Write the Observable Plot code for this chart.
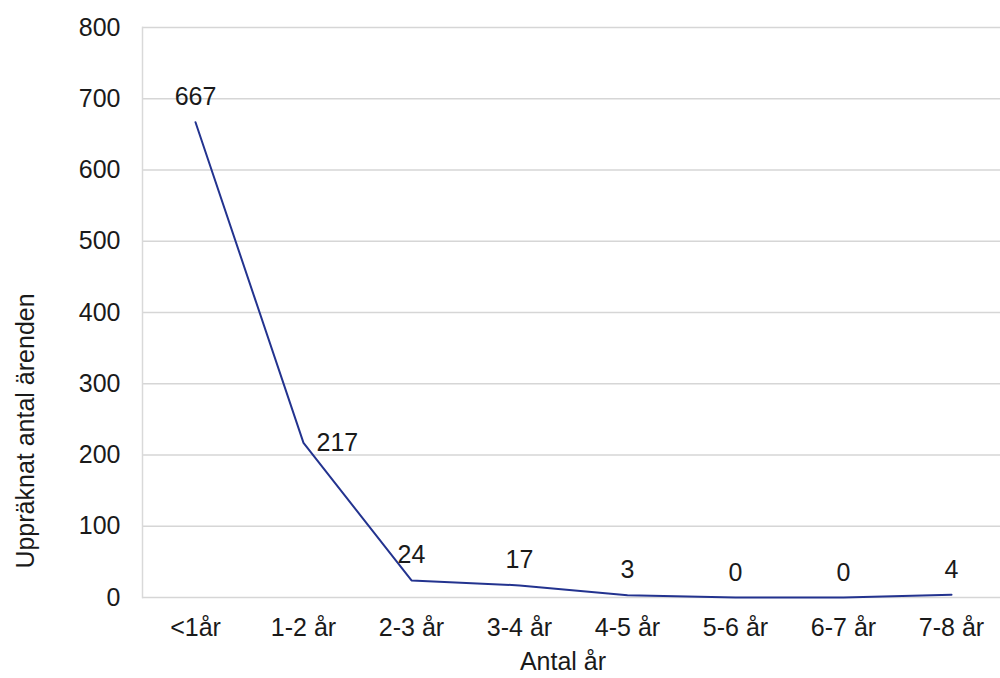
<!DOCTYPE html>
<html>
<head>
<meta charset="utf-8">
<script src="https://cdn.jsdelivr.net/npm/d3@7"></script>
<script src="https://cdn.jsdelivr.net/npm/@observablehq/plot@0.6"></script>
<style>
  html, body { margin: 0; padding: 0; background: #fff; }
  #chart svg { display: block; }
</style>
</head>
<body>
<div id="chart"></div>
<script>
const categories = ["<1år", "1-2 år", "2-3 år", "3-4 år", "4-5 år", "5-6 år", "6-7 år", "7-8 år"];
const values = [667, 217, 24, 17, 3, 0, 0, 4];
const yTicks = [0, 100, 200, 300, 400, 500, 600, 700, 800];
const xTitle = "Antal år";
const yTitle = "Uppräknat antal ärenden";

const data = categories.map((c, i) => ({cat: c, value: values[i], idx: i}));
const font = "Liberation Sans, Arial, sans-serif";
const fs = 25;

const chart = Plot.plot({
  width: 1000,
  height: 678,
  marginLeft: 142,
  marginRight: 0,
  marginTop: 27,
  marginBottom: 81,
  style: {fontFamily: font, fontSize: fs + "px", color: "#1a1a1a", background: "#fff"},
  x: {type: "point", domain: categories, range: [195, 951], padding: 0},
  y: {domain: [0, 800]},
  marks: [
    Plot.ruleY(yTicks, {stroke: "#d6d6d6", strokeWidth: 1.5}),
    Plot.frame({anchor: "left", stroke: "#d9d9d9", strokeWidth: 1.5}),
    Plot.axisY({ticks: yTicks, tickSize: 0, tickPadding: 22, label: null, fontSize: fs}),
    Plot.axisX({tickSize: 0, tickPadding: 21, label: null, fontSize: fs}),
    Plot.line(data, {x: "cat", y: "value", stroke: "#23338f", strokeWidth: 2}),
    Plot.text(data.filter(d => d.idx !== 1), {x: "cat", y: "value", text: d => String(d.value), dy: -25, fontSize: fs, fill: "#1a1a1a"}),
    Plot.text(data.filter(d => d.idx === 1), {x: "cat", y: "value", text: d => String(d.value), dx: 13, dy: 0, textAnchor: "start", fontSize: fs, fill: "#1a1a1a"})
  ]
});

const svg = d3.select(chart);
svg.append("text")
  .attr("transform", "translate(27,431) rotate(-90)")
  .attr("text-anchor", "middle")
  .attr("dominant-baseline", "middle")
  .attr("font-family", font)
  .attr("font-size", fs)
  .attr("fill", "#1a1a1a")
  .text(yTitle);
svg.append("text")
  .attr("x", 563)
  .attr("y", 663)
  .attr("text-anchor", "middle")
  .attr("dominant-baseline", "middle")
  .attr("font-family", font)
  .attr("font-size", fs)
  .attr("fill", "#1a1a1a")
  .text(xTitle);

document.getElementById("chart").appendChild(chart);
</script>
</body>
</html>
